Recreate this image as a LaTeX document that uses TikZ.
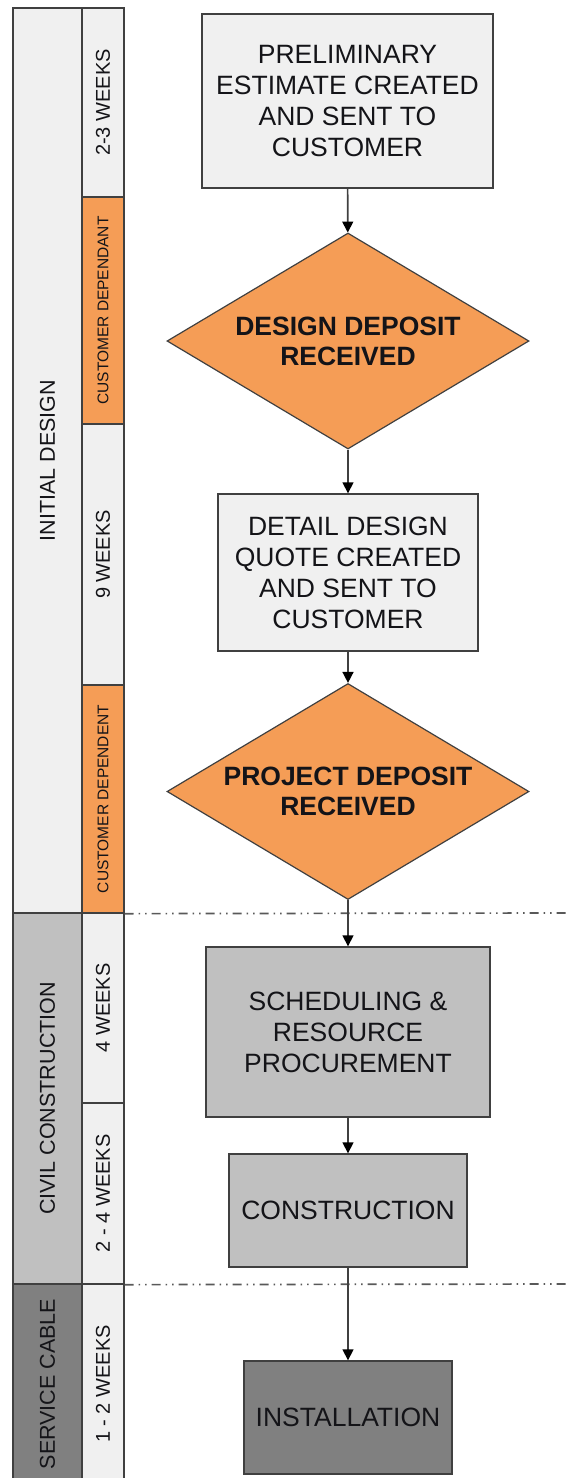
\documentclass[tikz,border=0pt]{standalone}
\usepackage{fontspec}
\setmainfont{Liberation Sans}
\usetikzlibrary{shapes.geometric,arrows.meta}
\definecolor{paleGrey}{HTML}{F0F0F0}
\definecolor{midGrey}{HTML}{C0C0C0}
\definecolor{darkGrey}{HTML}{808080}
\definecolor{depOrange}{HTML}{F59D56}
\definecolor{edgeGrey}{HTML}{404040}
\definecolor{inkDark}{HTML}{141418}
\tikzset{
  cell/.style={draw=edgeGrey, line width=1.3pt, inner sep=0pt, text=inkDark},
  phase/.style={cell, minimum width=69pt, font=\fontsize{21.5}{24}\selectfont},
  span/.style={cell, fill=paleGrey, minimum width=42pt, font=\fontsize{20}{24}\selectfont},
  dep/.style={cell, fill=depOrange, minimum width=42pt, font=\fontsize{15.5}{18}\selectfont},
  stepbox/.style={draw=edgeGrey, line width=1.4pt, align=center, inner sep=0pt, text=inkDark,
    font=\fontsize{26.5}{31}\selectfont},
  decision/.style={diamond, draw=edgeGrey, line width=1.2pt, fill=depOrange, inner sep=0pt,
    shape aspect=1.676, minimum width=362pt, minimum height=216pt, align=center,
    text=inkDark, font=\bfseries\fontsize{26.5}{30}\selectfont},
  flow/.style={draw=edgeGrey, line width=1.6pt, -{Triangle[length=11pt,width=11pt,fill=black,color=black]}},
  divider/.style={draw=gray!70!black, line width=1.7pt,
    dash pattern=on 9pt off 5pt on 1.5pt off 5pt on 1.5pt off 5pt}
}
\begin{document}
\begin{tikzpicture}[x=1pt,y=-1pt]
\useasboundingbox (0,0) rectangle (567,1478);
\begin{scope}
\clip (0,0) rectangle (567,1478);

% phase column
\node[phase, fill=paleGrey, minimum height=905pt] (initial) at (47.5,460.5) {\rotatebox{90}{INITIAL DESIGN}};
\node[phase, fill=midGrey, minimum height=371pt] (civil) at (47.5,1098.5) {\rotatebox{90}{CIVIL CONSTRUCTION}};
\node[phase, fill=darkGrey, minimum height=200pt] (service) at (47.5,1384) {\rotatebox{90}{SERVICE CABLE}};

% duration column
\node[span, minimum height=189pt] (d23) at (103,102.5) {\rotatebox{90}{2-3 WEEKS}};
\node[dep, minimum height=227pt] (cdep1) at (103,310.5) {\rotatebox{90}{CUSTOMER DEPENDANT}};
\node[span, minimum height=261pt] (d9) at (103,554.5) {\rotatebox{90}{9 WEEKS}};
\node[dep, minimum height=228pt] (cdep2) at (103,799) {\rotatebox{90}{CUSTOMER DEPENDENT}};
\node[span, minimum height=190pt] (d4) at (103,1008) {\rotatebox{90}{4 WEEKS}};
\node[span, minimum height=181pt] (d24) at (103,1193.5) {\rotatebox{90}{2 - 4 WEEKS}};
\node[span, minimum height=200pt] (d12) at (103,1384) {\rotatebox{90}{1 - 2 WEEKS}};
\end{scope}

% phase dividers
\coordinate (divA) at (567,913);
\coordinate (divB) at (567,1284);
\draw[divider] (cdep2.south east) -- (divA);
\draw[divider] (d24.south east) -- (divB);

% process steps
\node[stepbox, fill=paleGrey, minimum width=291pt, minimum height=174pt] (estimate) at (347.5,101)
  {PRELIMINARY\\ESTIMATE CREATED\\AND SENT TO\\CUSTOMER};
\node[decision] (designdep) at (348,341) {DESIGN DEPOSIT\\RECEIVED};
\node[stepbox, fill=paleGrey, minimum width=260pt, minimum height=157pt] (quote) at (348,572.5)
  {DETAIL DESIGN\\QUOTE CREATED\\AND SENT TO\\CUSTOMER};
\node[decision] (projectdep) at (348,791.5) {PROJECT DEPOSIT\\RECEIVED};
\node[stepbox, fill=midGrey, minimum width=284pt, minimum height=170pt] (sched) at (348,1032)
  {SCHEDULING \&\\RESOURCE\\PROCUREMENT};
\node[stepbox, fill=midGrey, minimum width=238pt, minimum height=113pt] (constr) at (348,1210.5)
  {CONSTRUCTION};
\node[stepbox, fill=darkGrey, minimum width=208pt, minimum height=113pt] (install) at (348,1417.5)
  {INSTALLATION};

% connectors
\draw[flow] (estimate) -- (designdep);
\draw[flow] (designdep) -- (quote);
\draw[flow] (quote) -- (projectdep);
\draw[flow] (projectdep) -- (sched);
\draw[flow] (sched) -- (constr);
\draw[flow] (constr) -- (install);
\end{tikzpicture}
\end{document}
